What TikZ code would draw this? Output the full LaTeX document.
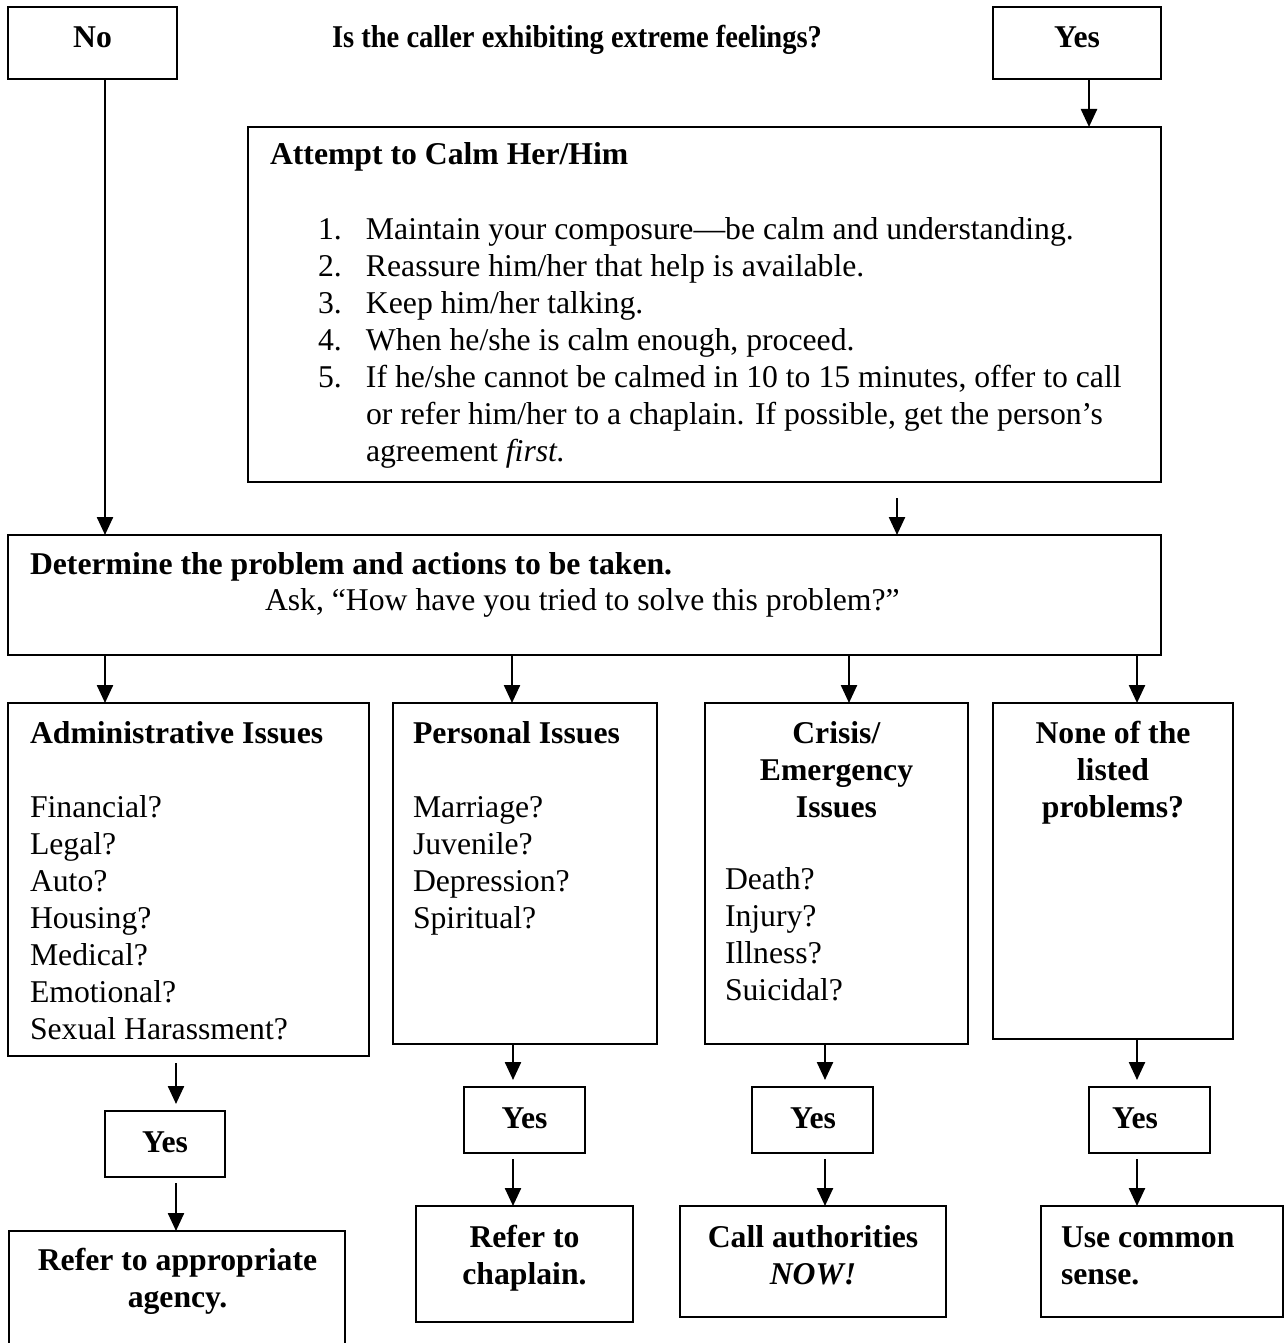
\documentclass[tikz,border=0pt]{standalone}
\usepackage{graphicx}
\usepackage{fontspec}
\setmainfont{Liberation Serif}
\usetikzlibrary{arrows.meta}
\newcommand\fsz{\fontsize{31.7pt}{37pt}\selectfont}
\begin{document}
\begin{tikzpicture}[x=1pt,y=-1pt,
  box/.style={draw, line width=2.4pt, rectangle, inner sep=0pt, outer sep=0pt, anchor=north west},
  txt/.style={inner sep=0pt, outer sep=0pt, font=\fsz},
  arr/.style={line width=2.4pt, -{Triangle[length=18pt,width=16pt]}}]
\clip (0,0) rectangle (1287,1343);
\fill[white] (0,0) rectangle (1287,1343);
% boxes
\node[box, minimum width=169pt, minimum height=72pt] (no) at (8,7) {};
\node[box, minimum width=168pt, minimum height=72pt] (yes0) at (993,7) {};
\node[box, minimum width=913pt, minimum height=355pt] (att) at (248,127) {};
\node[box, minimum width=1153pt, minimum height=120pt] (det) at (8,535) {};
\node[box, minimum width=361pt, minimum height=353pt] (adm) at (8,703) {};
\node[box, minimum width=264pt, minimum height=341pt] (per) at (393,703) {};
\node[box, minimum width=263pt, minimum height=341pt] (cri) at (705,703) {};
\node[box, minimum width=240pt, minimum height=336pt] (non) at (993,703) {};
\node[box, minimum width=120pt, minimum height=66pt] (yes1) at (105,1111) {};
\node[box, minimum width=121pt, minimum height=66pt] (yes2) at (464,1087) {};
\node[box, minimum width=121pt, minimum height=66pt] (yes3) at (752,1087) {};
\node[box, minimum width=121pt, minimum height=66pt] (yes4) at (1089,1087) {};
\node[box, minimum width=336pt, minimum height=120pt] (ref1) at (9,1231) {};
\node[box, minimum width=217pt, minimum height=116pt] (ref2) at (416,1206) {};
\node[box, minimum width=266pt, minimum height=111pt] (ref3) at (680,1206) {};
\node[box, minimum width=242pt, minimum height=111pt] (ref4) at (1041,1206) {};
% texts
\node[txt, anchor=base] (tno) at (92.5,48) {\textbf{No}};
\node[txt, anchor=base] (ttitle) at (577,48) {\scalebox{0.9}[1]{\textbf{Is the caller exhibiting extreme feelings?}}};
\node[txt, anchor=base] (tyes0) at (1077,48) {\textbf{Yes}};
\node[txt, anchor=base west] (tatt) at (270,165) {\textbf{Attempt to Calm Her/Him}};
\node[txt, anchor=base west] (tlist) at (318,239) {\begin{tabular}[t]{@{}p{48pt}@{}l@{}}
1. & Maintain your composure—be calm and understanding.\\
2. & Reassure him/her that help is available.\\
3. & Keep him/her talking.\\
4. & When he/she is calm enough, proceed.\\
5. & If he/she cannot be calmed in 10 to 15 minutes, offer to call\\
   & or refer him/her to a chaplain. If possible, get the person’s\\
   & agreement \textit{first.}
\end{tabular}};
\node[txt, anchor=base west] (tdet) at (30,574) {\textbf{Determine the problem and actions to be taken.}};
\node[txt, anchor=base west] (task) at (265,610) {Ask, “How have you tried to solve this problem?”};
\node[txt, anchor=base west] (tadm) at (30,743) {\begin{tabular}[t]{@{}l@{}}
\textbf{Administrative Issues}\\ \\
Financial?\\ Legal?\\ Auto?\\ Housing?\\ Medical?\\ Emotional?\\ Sexual Harassment?
\end{tabular}};
\node[txt, anchor=base west] (tper) at (413,743) {\begin{tabular}[t]{@{}l@{}}
\textbf{Personal Issues}\\ \\
Marriage?\\ Juvenile?\\ Depression?\\ Spiritual?
\end{tabular}};
\node[txt, anchor=base] (tcri) at (836.5,743) {\begin{tabular}[t]{@{}c@{}}
\textbf{Crisis/}\\ \textbf{Emergency}\\ \textbf{Issues}
\end{tabular}};
\node[txt, anchor=base west] (tcri2) at (725,889) {\begin{tabular}[t]{@{}l@{}}
Death?\\ Injury?\\ Illness?\\ Suicidal?
\end{tabular}};
\node[txt, anchor=base] (tnon) at (1113,743) {\begin{tabular}[t]{@{}c@{}}
\textbf{None of the}\\ \textbf{listed}\\ \textbf{problems?}
\end{tabular}};
\node[txt, anchor=base] (tyes1) at (165,1152) {\textbf{Yes}};
\node[txt, anchor=base] (tyes2) at (524.5,1128) {\textbf{Yes}};
\node[txt, anchor=base] (tyes3) at (813,1128) {\textbf{Yes}};
\node[txt, anchor=base] (tyes4) at (1135,1128) {\textbf{Yes}};
\node[txt, anchor=base] (tref1) at (177.5,1270) {\begin{tabular}[t]{@{}c@{}}
\textbf{Refer to appropriate}\\ \textbf{agency.}
\end{tabular}};
\node[txt, anchor=base] (tref2) at (524.5,1247) {\begin{tabular}[t]{@{}c@{}}
\textbf{Refer to}\\ \textbf{chaplain.}
\end{tabular}};
\node[txt, anchor=base] (tref3) at (813,1247) {\begin{tabular}[t]{@{}c@{}}
\textbf{Call authorities}\\ \textbf{\textit{NOW!}}
\end{tabular}};
\node[txt, anchor=base west] (tref4) at (1061,1247) {\begin{tabular}[t]{@{}l@{}}
\textbf{Use common}\\ \textbf{sense.}
\end{tabular}};
% connectors
\draw[arr] (yes0.south -| 1089,0) -- (att.north -| 1089,0);
\draw[arr] (no.south -| 105,0) -- (det.north -| 105,0);
\draw[arr, shorten <=16pt] (att.south -| 897,0) -- (det.north -| 897,0);
\draw[arr] (det.south -| 105,0) -- (adm.north -| 105,0);
\draw[arr] (det.south -| 512,0) -- (per.north -| 512,0);
\draw[arr] (det.south -| 849,0) -- (cri.north -| 849,0);
\draw[arr] (det.south -| 1137,0) -- (non.north -| 1137,0);
\draw[arr, shorten <=7pt, shorten >=7pt] (adm.south -| 176,0) -- (yes1.north -| 176,0);
\draw[arr, shorten <=6pt] (yes1.south -| 176,0) -- (ref1.north -| 176,0);
\draw[arr, shorten >=7pt] (per.south -| 513,0) -- (yes2.north -| 513,0);
\draw[arr, shorten <=6pt] (yes2.south -| 513,0) -- (ref2.north -| 513,0);
\draw[arr, shorten >=7pt] (cri.south -| 825,0) -- (yes3.north -| 825,0);
\draw[arr, shorten <=6pt] (yes3.south -| 825,0) -- (ref3.north -| 825,0);
\draw[arr, shorten >=7pt] (non.south -| 1137,0) -- (yes4.north -| 1137,0);
\draw[arr, shorten <=6pt] (yes4.south -| 1137,0) -- (ref4.north -| 1137,0);
\end{tikzpicture}
\end{document}
